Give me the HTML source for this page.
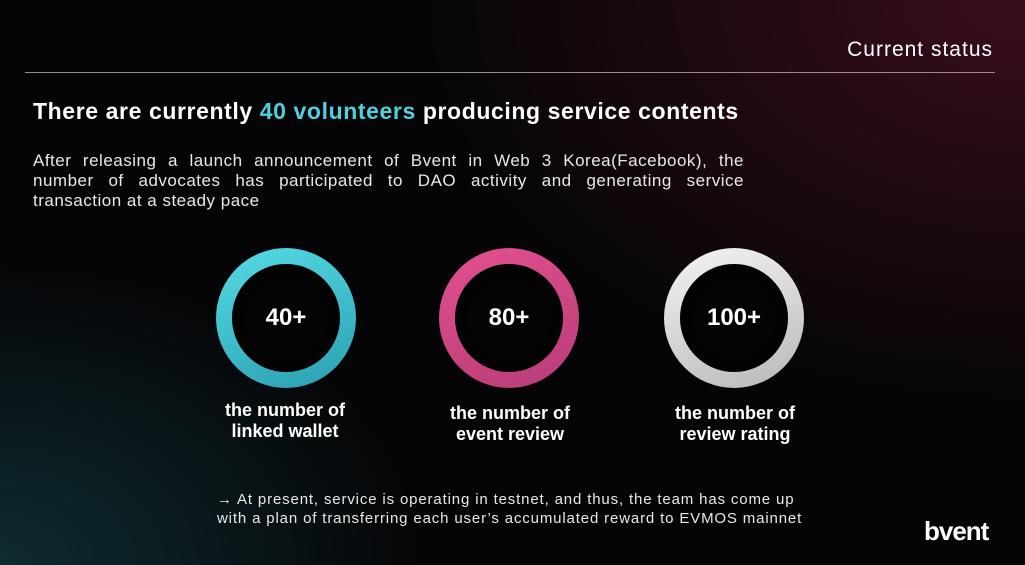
<!DOCTYPE html>
<html><head><meta charset="utf-8"><style>
body{margin:0;width:1025px;height:565px;overflow:hidden;font-family:"Liberation Sans",sans-serif;color:#fff;
background:radial-gradient(ellipse 420px 300px at 0% 100%,rgba(20,70,75,.6),transparent),radial-gradient(ellipse 600px 400px at 100% 0%,rgba(70,15,35,.8),transparent),#050507;position:relative}
.abs{position:absolute}
.ring{position:absolute;width:140px;height:140px;border-radius:50%;top:248px;box-sizing:border-box}
.ring .in{position:absolute;left:16px;top:16px;width:108px;height:108px;border-radius:50%;background:#040405;box-shadow:inset 0 0 10px rgba(0,0,0,.8);display:flex;align-items:center;justify-content:center;font-size:24px;font-weight:bold}
.lab{position:absolute;width:200px;text-align:center;font-size:18px;font-weight:bold;line-height:21px}
.jl{text-align:justify;text-align-last:justify;height:20px}
</style></head><body>
<div class="abs" style="right:32px;top:38px;font-size:21px;letter-spacing:1px">Current status</div>
<div class="abs" style="left:25px;top:72px;width:970px;height:1px;background:#9a8a92"></div>
<div class="abs" style="left:33px;top:98px;font-size:23px;font-weight:bold;letter-spacing:0.6px">There are currently <span style="color:#4fd0dc">40 volunteers</span> producing service contents</div>
<div class="abs" style="left:33px;top:151px;width:711px;font-size:17px;line-height:20px;color:#e8e8e8;letter-spacing:0.5px">
<div class="jl">After releasing a launch announcement of Bvent in Web 3 Korea(Facebook), the</div>
<div class="jl">number of advocates has participated to DAO activity and generating service</div>
<div>transaction at a steady pace</div></div>
<div class="ring" style="left:216px;background:linear-gradient(160deg,#55dbe6,#2a9fb0)"><div class="in">40+</div></div>
<div class="ring" style="left:439px;background:linear-gradient(160deg,#e2508f,#b83c78)"><div class="in">80+</div></div>
<div class="ring" style="left:664px;background:linear-gradient(160deg,#f4f4f4,#b8b8b8)"><div class="in">100+</div></div>
<div class="lab" style="left:185px;top:400px">the number of<br>linked wallet</div>
<div class="lab" style="left:410px;top:403px">the number of<br>event review</div>
<div class="lab" style="left:635px;top:403px">the number of<br>review rating</div>
<div class="abs" style="left:217px;top:490px;font-size:15px;line-height:19px;color:#e8e8e8;letter-spacing:0.85px">→ At present, service is operating in testnet, and thus, the team has come up<br>with a plan of transferring each user’s accumulated reward to EVMOS mainnet</div>
<div class="abs" style="left:924px;top:516px;font-size:26px;font-weight:bold;letter-spacing:-1px">bvent</div>
</body></html>
